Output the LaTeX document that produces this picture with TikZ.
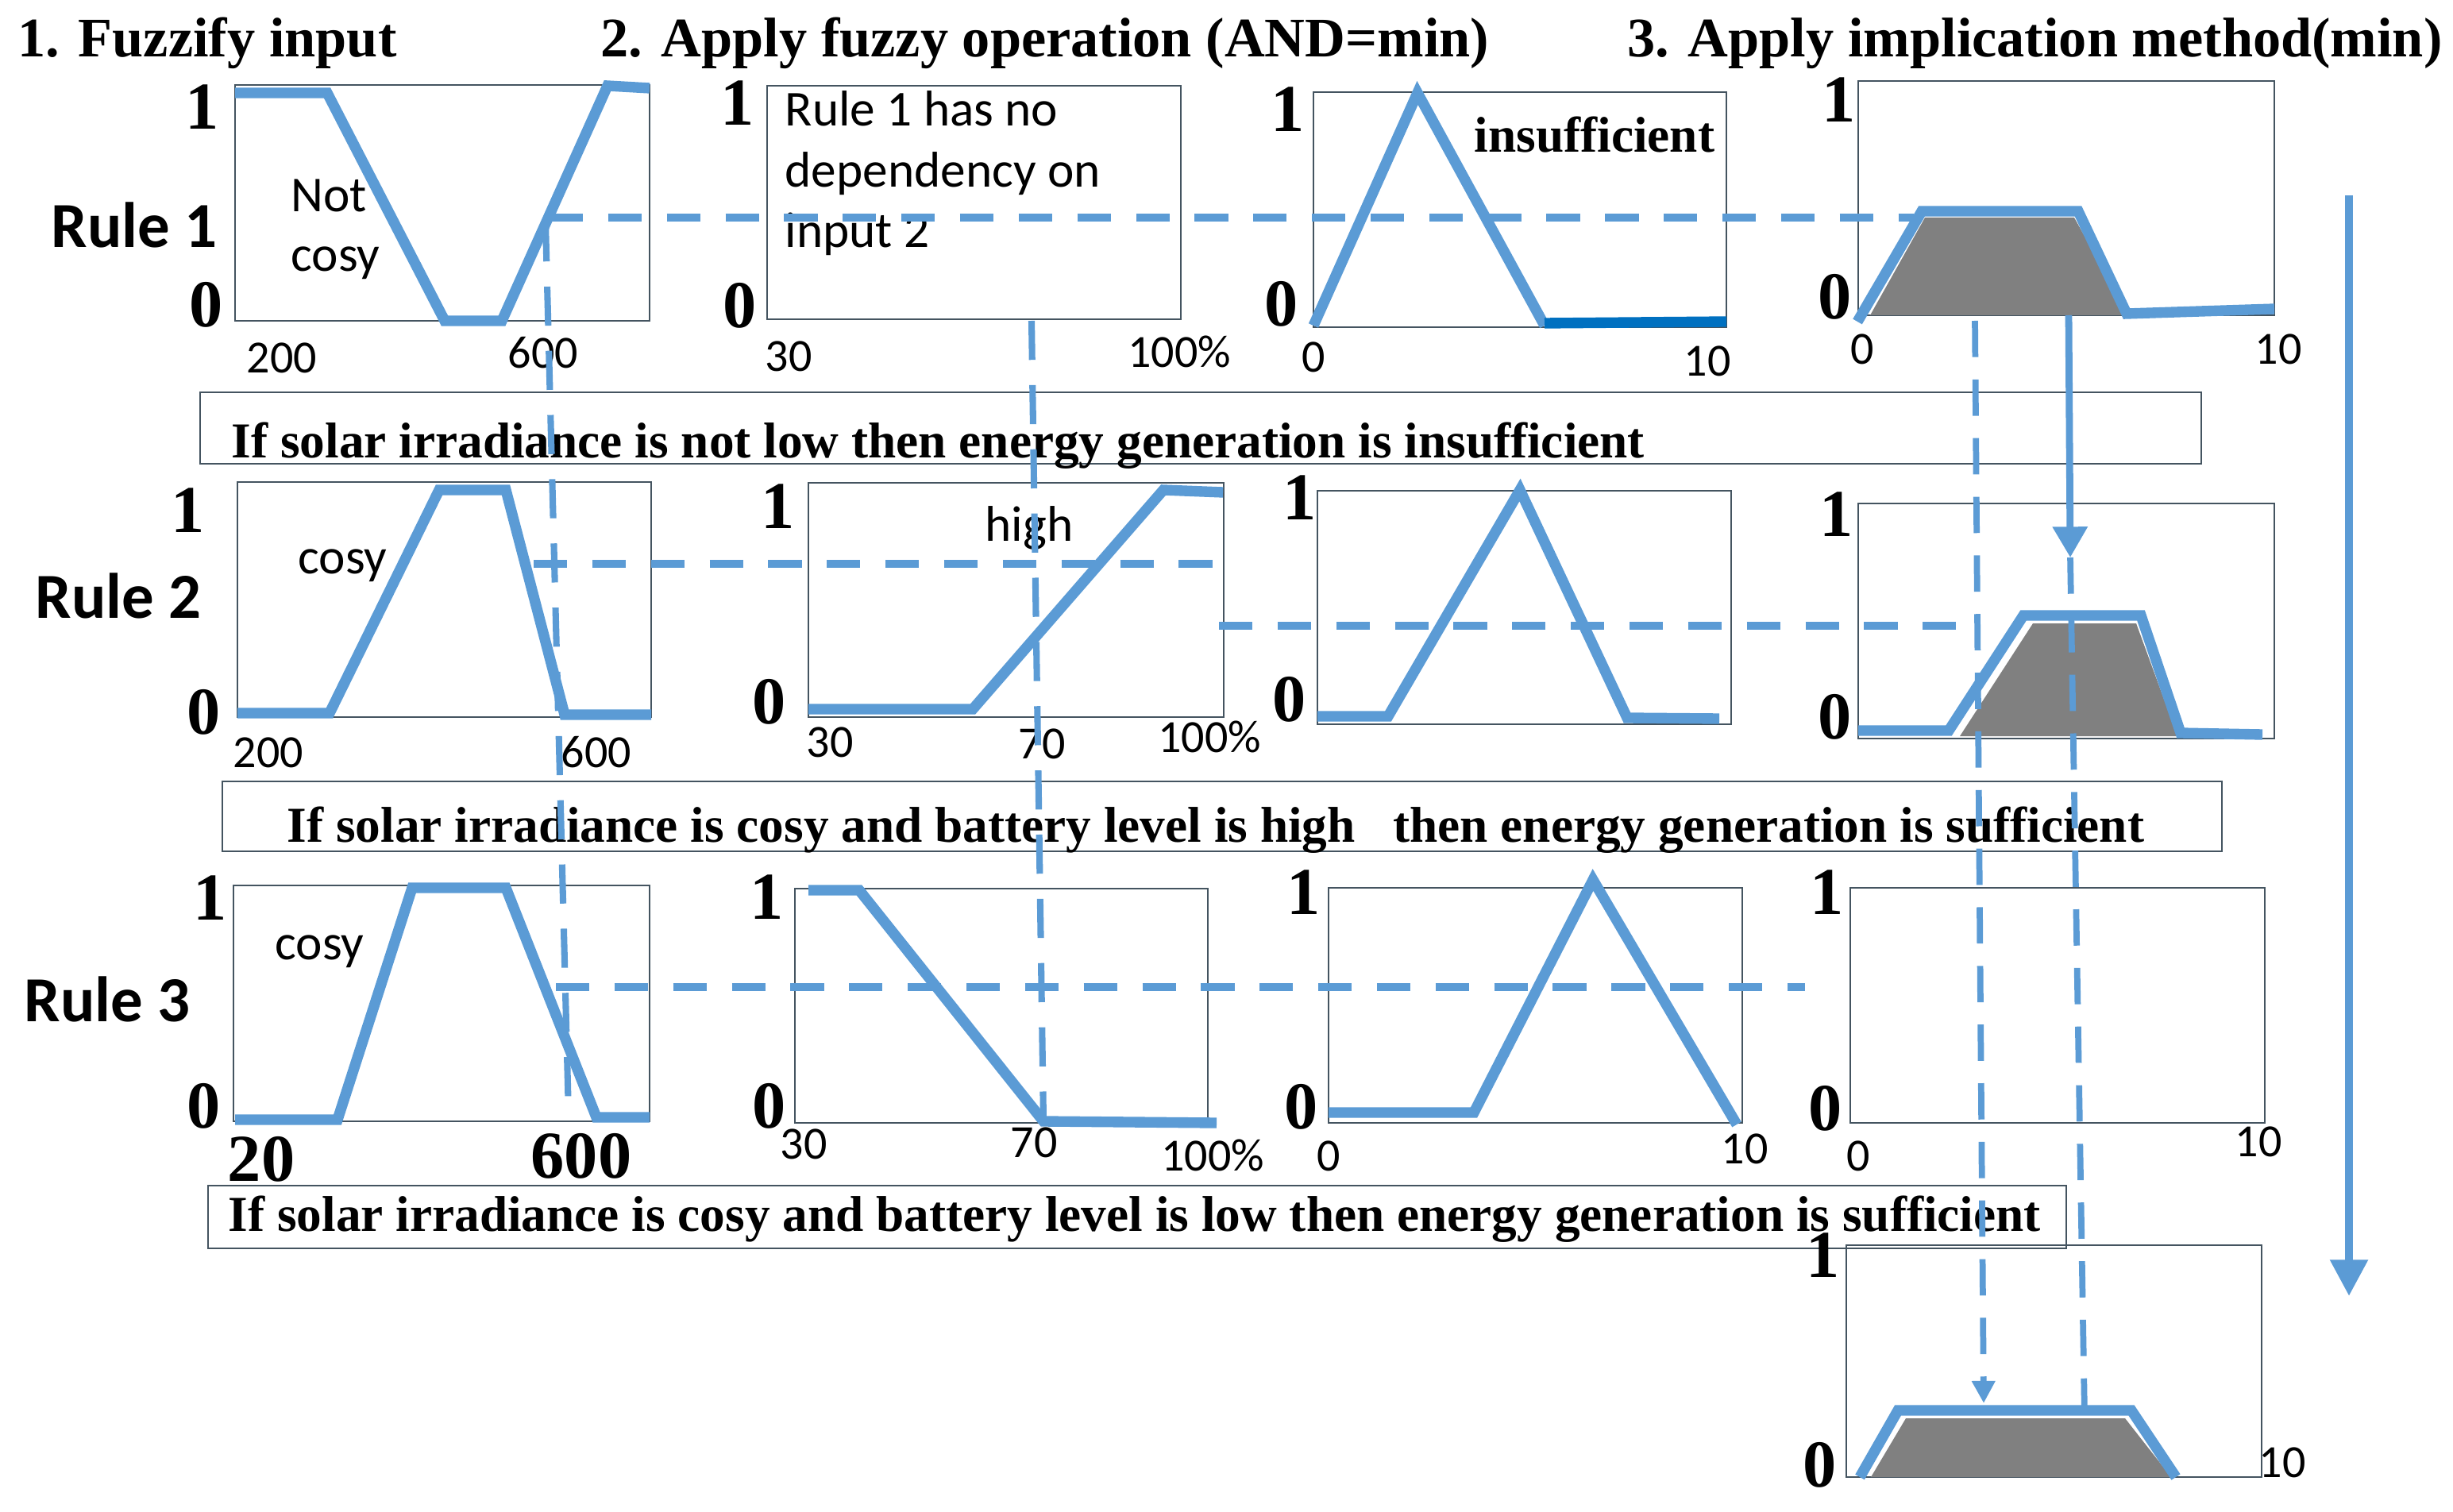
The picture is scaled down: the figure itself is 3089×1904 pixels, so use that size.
\documentclass[tikz,border=0pt]{standalone}
\usepackage{fontspec}
\setmainfont{Liberation Serif}
\newfontfamily\calibri{Carlito}
\usetikzlibrary{arrows.meta}
\definecolor{mfblue}{RGB}{91,155,213}
\definecolor{darkmf}{RGB}{0,112,192}
\definecolor{framegrey}{RGB}{68,84,96}
\definecolor{areagrey}{RGB}{128,128,128}
\tikzstyle{heading} = [anchor=base west, inner sep=0pt, font=\bfseries\fontsize{20}{24}\selectfont]
\tikzstyle{ruletext} = [anchor=base west, inner sep=0pt, font=\bfseries\fontsize{18}{22}\selectfont]
\tikzstyle{rulename} = [anchor=base west, inner sep=0pt, font=\calibri\bfseries\fontsize{23}{28}\selectfont]
\tikzstyle{setname} = [anchor=base west, inner sep=0pt, font=\calibri\fontsize{18}{22}\selectfont]
\tikzstyle{ticklabel} = [inner sep=0pt, font=\calibri\fontsize{16.5}{20}\selectfont]
\tikzstyle{grade} = [inner sep=0pt, font=\bfseries\fontsize{24}{28}\selectfont]
\tikzstyle{panel} = [draw=framegrey, line width=0.8pt]
\tikzstyle{mf} = [draw=mfblue, line width=3.8pt]
\tikzstyle{cutline} = [draw=mfblue, line width=2.6pt, dash pattern=on 12pt off 9pt]
\tikzstyle{dropline} = [draw=mfblue, line width=2.3pt, dash pattern=on 14pt off 9pt]
\tikzstyle{outline} = [draw=mfblue, line width=2.2pt, dash pattern=on 13pt off 8pt]
\tikzstyle{arrow} = [draw=mfblue, line width=2.5pt, -{Triangle[length=11pt,width=12pt]}]

\begin{document}
\begin{tikzpicture}[x=0.01cm, y=-0.01cm]
    \useasboundingbox (0,0) rectangle (3089,1904);

    % Headings
    \node (head1) [heading] at (22,72) {1. Fuzzify input};
    \node (head2) [heading] at (756,72) {2. Apply fuzzy operation (AND=min)};
    \node (head3) [heading] at (2049,72) {3. Apply implication method(min)};

    % Rule names
    \node (rule1) [rulename] at (64,312) {Rule 1};
    \node (rule2) [rulename] at (44,778) {Rule 2};
    \node (rule3) [rulename] at (30,1286) {Rule 3};

    % Panels
    \draw [panel] (296,107) rectangle (818,404);
    \draw [panel] (966,108) rectangle (1487,402);
    \draw [panel] (1654,116) rectangle (2174,412);
    \draw [panel] (2340,102) rectangle (2864,397);
    \draw [panel] (299,607) rectangle (820,903);
    \draw [panel] (1018,608) rectangle (1541,903);
    \draw [panel] (1659,618) rectangle (2180,912);
    \draw [panel] (2340,634) rectangle (2864,930);
    \draw [panel] (294,1115) rectangle (818,1412);
    \draw [panel] (1001,1119) rectangle (1521,1414);
    \draw [panel] (1673,1118) rectangle (2194,1414);
    \draw [panel] (2330,1118) rectangle (2852,1414);
    \draw [panel] (2325,1568) rectangle (2848,1860);

    % Rule statements
    \draw [panel] (252,494) rectangle (2772,584);
    \draw [panel] (280,984) rectangle (2798,1072);
    \draw [panel] (262,1493) rectangle (2602,1572);
    \node (if1) [ruletext] at (291,577) {If solar irradiance is not low then energy generation is insufficient};
    \node (if2) [ruletext] at (361,1060) {If solar irradiance is cosy and battery level is high\ \ \ then energy generation is sufficient};
    \node (if3) [ruletext] at (287,1550) {If solar irradiance is cosy and battery level is low then energy generation is sufficient};

    % Clipped output areas
    \fill [areagrey] (2355,397) -- (2424,274) -- (2612,274) -- (2680,397) -- cycle;
    \fill [areagrey] (2468,927) -- (2560,785) -- (2690,785) -- (2742,927) -- cycle;
    \fill [areagrey] (2356,1860) -- (2400,1786) -- (2676,1786) -- (2734,1860) -- cycle;

    % Membership functions
    \draw [mf] (296,117) -- (412,117) -- (560,404) -- (632,404) -- (765,108) -- (818,111);
    \draw [mf] (1654,410) -- (1785,117) -- (1945,410);
    \draw [mf, draw=darkmf] (1945,407) -- (2174,405);
    \draw [mf] (2339,405) -- (2420,266) -- (2617,266) -- (2678,395) -- (2864,389);
    \draw [mf] (299,898) -- (415,898) -- (553,617) -- (637,617) -- (711,900) -- (820,900);
    \draw [mf] (1018,893) -- (1225,893) -- (1465,617) -- (1540,620);
    \draw [mf] (1659,902) -- (1748,902) -- (1914,617) -- (2049,904) -- (2165,905);
    \draw [mf] (2340,920) -- (2454,920) -- (2548,775) -- (2696,775) -- (2746,923) -- (2849,925);
    \draw [mf] (296,1410) -- (425,1410) -- (519,1118) -- (637,1118) -- (751,1407) -- (818,1407);
    \draw [mf] (1018,1121) -- (1082,1121) -- (1314,1412) -- (1532,1414);
    \draw [mf] (1673,1401) -- (1856,1401) -- (2006,1108) -- (2187,1416);
    \draw [mf] (2342,1860) -- (2390,1776) -- (2684,1776) -- (2740,1860);

    % Set names
    \node (notcosy1) [setname] at (366,267) {Not};
    \node (notcosy2) [setname] at (366,342) {cosy};
    \node (nodep1) [setname] at (988,159) {Rule 1 has no};
    \node (nodep2) [setname] at (988,236) {dependency on};
    \node (nodep3) [setname] at (988,312) {input 2};
    \node (insuff) [ruletext] at (1856,192) {insufficient};
    \node (cosy2) [setname] at (375,722) {cosy};
    \node (high2) [setname] at (1240,682) {high};
    \node (cosy3) [setname] at (346,1208) {cosy};

    % Membership grades
    \node (g11a) [grade] at (255,135) {1};
    \node (g11b) [grade] at (260,384) {0};
    \node (g12a) [grade] at (929,130) {1};
    \node (g12b) [grade] at (932,385) {0};
    \node (g13a) [grade] at (1622,138) {1};
    \node (g13b) [grade] at (1614,383) {0};
    \node (g14a) [grade] at (2316,126) {1};
    \node (g14b) [grade] at (2311,374) {0};
    \node (g21a) [grade] at (237,643) {1};
    \node (g21b) [grade] at (257,897) {0};
    \node (g22a) [grade] at (980,638) {1};
    \node (g22b) [grade] at (969,884) {0};
    \node (g23a) [grade] at (1637,627) {1};
    \node (g23b) [grade] at (1624,881) {0};
    \node (g24a) [grade] at (2313,648) {1};
    \node (g24b) [grade] at (2311,903) {0};
    \node (g31a) [grade] at (265,1131) {1};
    \node (g31b) [grade] at (257,1393) {0};
    \node (g32a) [grade] at (966,1130) {1};
    \node (g32b) [grade] at (969,1393) {0};
    \node (g33a) [grade] at (1642,1124) {1};
    \node (g33b) [grade] at (1639,1394) {0};
    \node (g34a) [grade] at (2301,1124) {1};
    \node (g34b) [grade] at (2299,1396) {0};
    \node (gouta) [grade] at (2296,1581) {1};
    \node (goutb) [grade] at (2292,1845) {0};

    % Axis ticks
    \node (t11a) [ticklabel] at (355,451) {200};
    \node (t11b) [ticklabel] at (684,444) {600};
    \node (t12a) [ticklabel] at (993,449) {30};
    \node (t12b) [ticklabel] at (1485,443) {100\%};
    \node (t13a) [ticklabel] at (1654,450) {0};
    \node (t13b) [ticklabel] at (2150,455) {10};
    \node (t14a) [ticklabel] at (2345,440) {0};
    \node (t14b) [ticklabel] at (2869,440) {10};
    \node (t21a) [ticklabel] at (338,948) {200};
    \node (t21b) [ticklabel] at (751,947) {600};
    \node (t22a) [ticklabel] at (1045,935) {30};
    \node (t22b) [ticklabel] at (1312,937) {70};
    \node (t22c) [ticklabel] at (1523,928) {100\%};
    \node (t31a) [grade] at (329,1460) {20};
    \node (t31b) [grade] at (732,1456) {600};
    \node (t32a) [ticklabel] at (1012,1441) {30};
    \node (t32b) [ticklabel] at (1302,1439) {70};
    \node (t32c) [ticklabel] at (1527,1455) {100\%};
    \node (t33a) [ticklabel] at (1673,1456) {0};
    \node (t33b) [ticklabel] at (2197,1447) {10};
    \node (t34a) [ticklabel] at (2340,1456) {0};
    \node (t34b) [ticklabel] at (2844,1438) {10};
    \node (touta) [ticklabel] at (2874,1842) {10};

    % Input values and cuts
    \draw [dropline] (687,280) -- (716,1405);
    \draw [dropline] (1299,404) -- (1314,1412);
    \draw [cutline] (692,274) -- (2410,274);
    \draw [cutline] (672,710) -- (1535,710);
    \draw [cutline] (1535,788) -- (2489,788);
    \draw [cutline] (700,1243) -- (2273,1243);

    % Aggregation
    \coordinate (aggA) at (2487,404);
    \coordinate (aggAend) at (2498,1767);
    \coordinate (aggB) at (2605,397);
    \coordinate (aggBend) at (2607,702);
    \coordinate (aggC) at (2625,1783);
    \coordinate (flowtop) at (2958,246);
    \coordinate (flowend) at (2958,1632);
    \draw [outline, -{Triangle[length=8pt,width=8pt]}] (aggA) -- (aggAend);
    \draw [arrow] (aggB) -- (aggBend);
    \draw [outline] (aggBend) -- (aggC);
    \draw [arrow, line width=2.8pt, -{Triangle[length=13pt,width=13pt]}] (flowtop) -- (flowend);
\end{tikzpicture}
\end{document}
